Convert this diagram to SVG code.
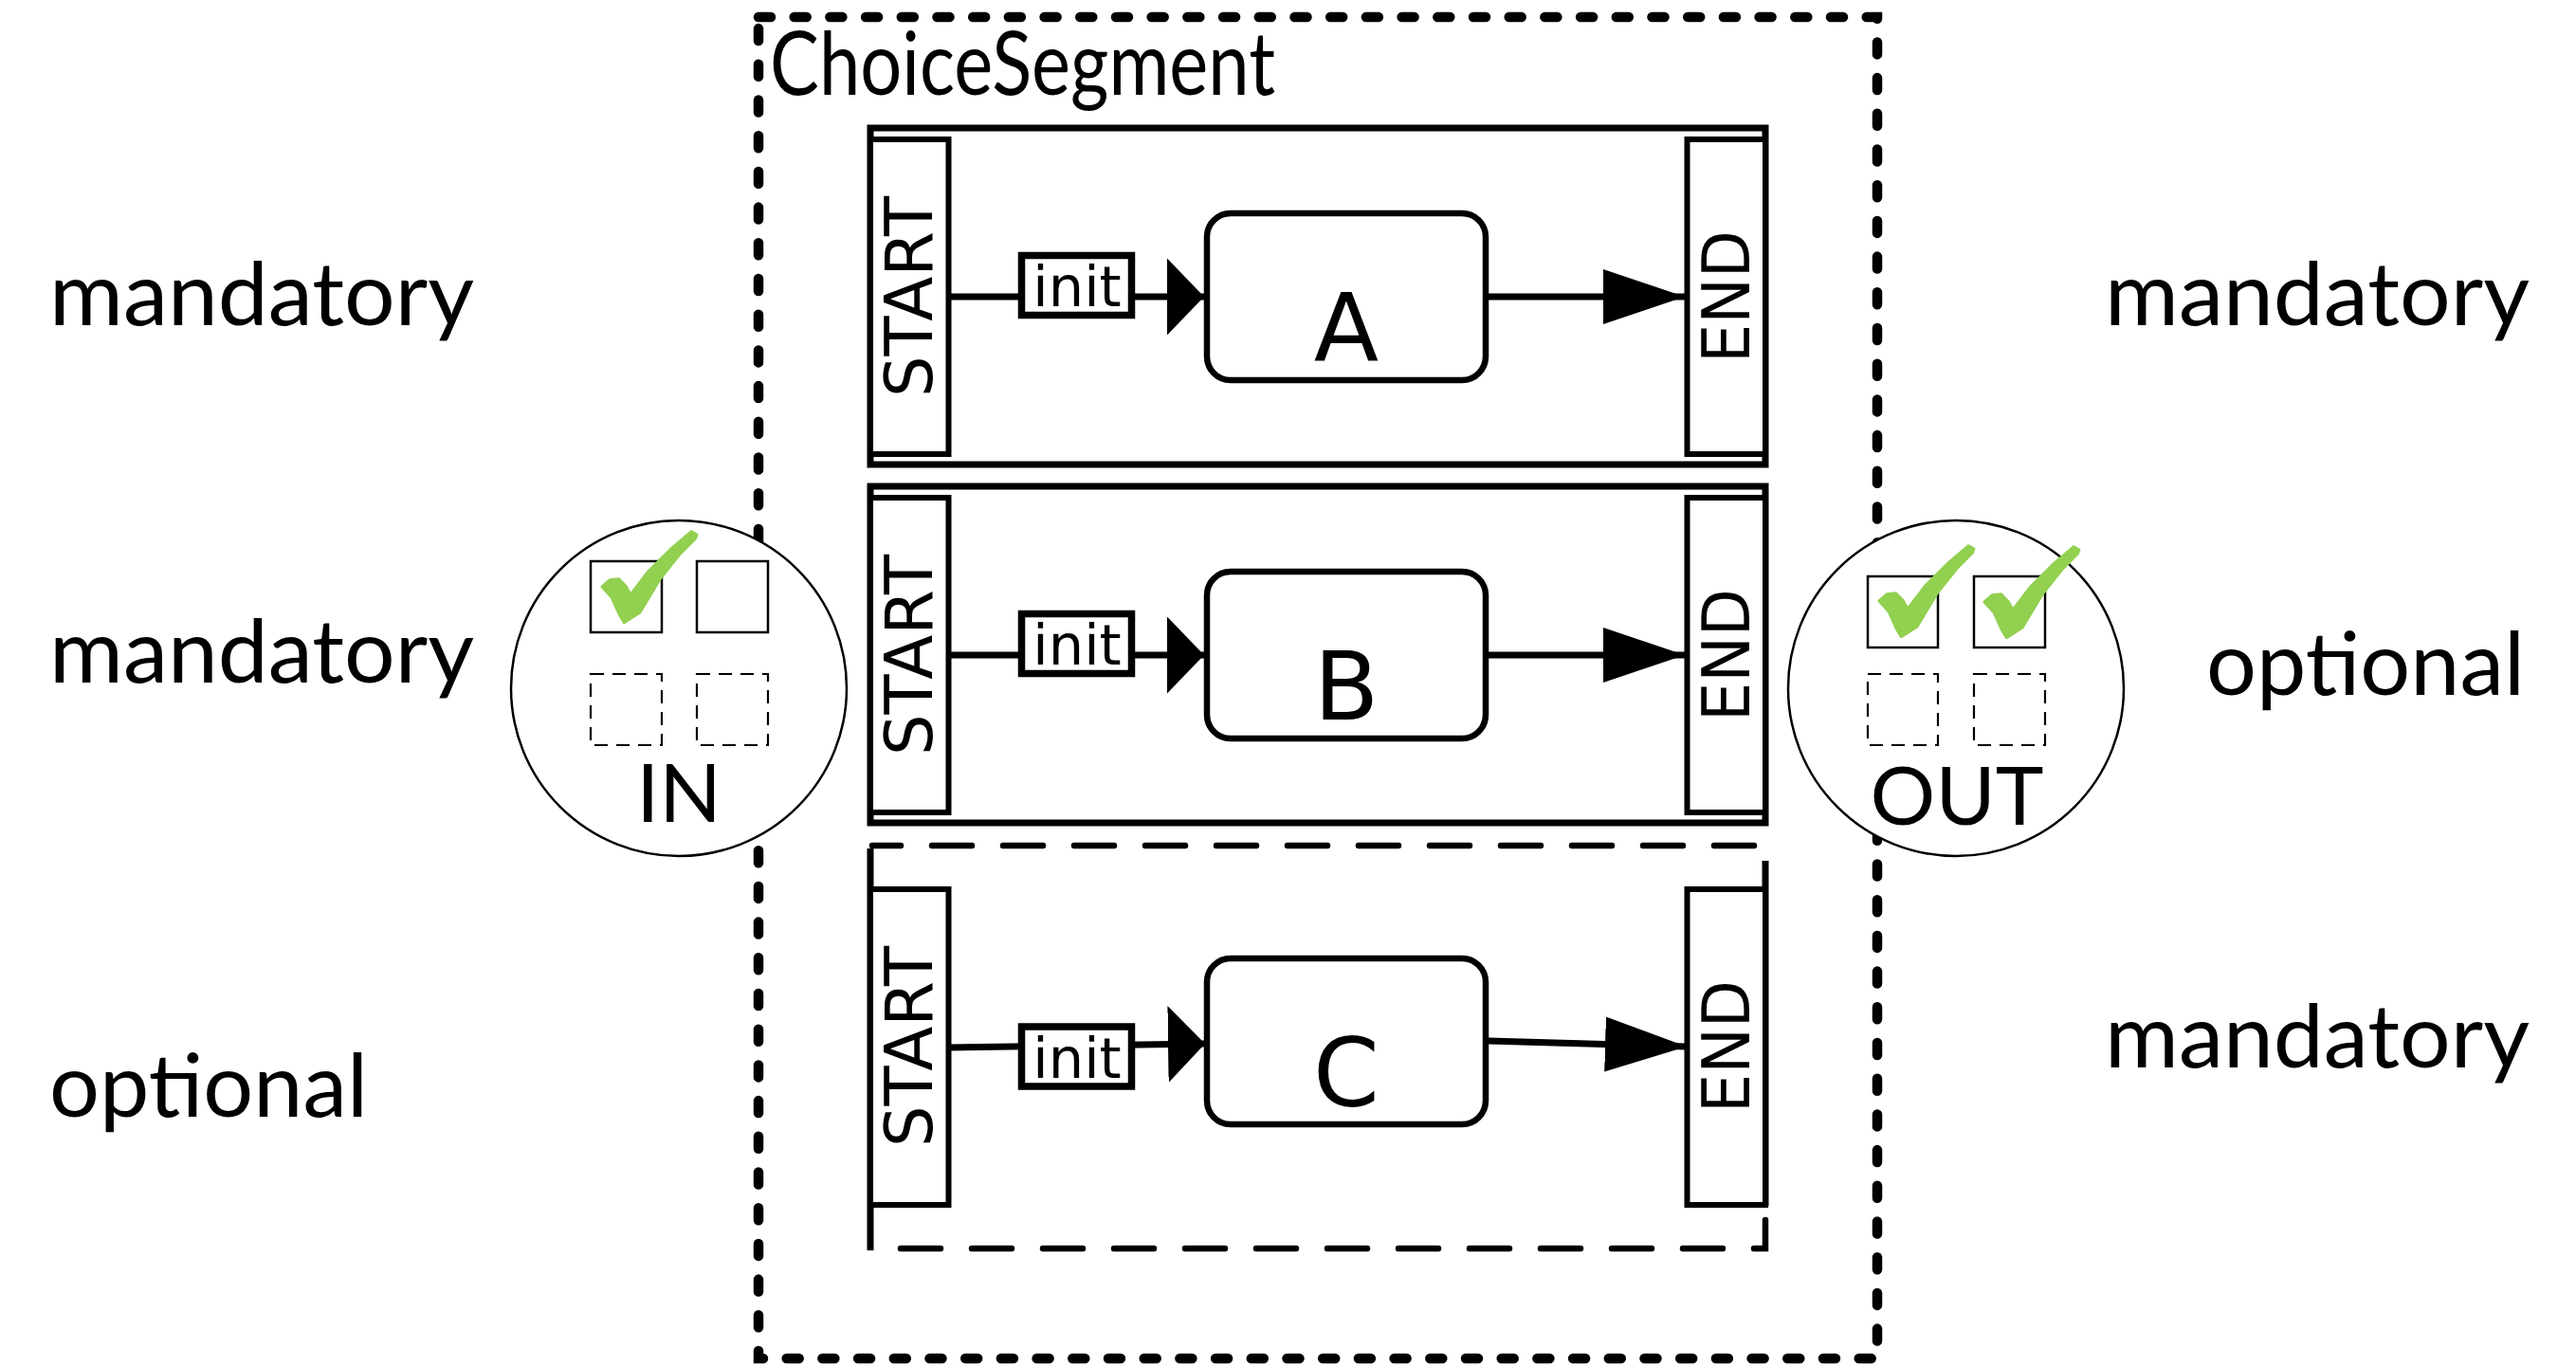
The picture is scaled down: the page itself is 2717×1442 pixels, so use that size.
<svg xmlns="http://www.w3.org/2000/svg" width="2717" height="1442" viewBox="0 0 2717 1442">
<defs>
<style>
.lbl{font-family:Lato,"Liberation Sans",sans-serif;font-size:93px;fill:#000}
.port-t{font-family:Lato,"Liberation Sans",sans-serif;font-size:86px;fill:#000;text-anchor:middle}
.dv{font-family:"DejaVu Sans",sans-serif;fill:#000}
.frame{fill:none;stroke:#000;stroke-width:7}
.term{fill:#fff;stroke:#000;stroke-width:6}
.task{fill:#fff;stroke:#000;stroke-width:6.5}
.edge{fill:none;stroke:#000;stroke-width:7}
.initbox{fill:#fff;stroke:#000;stroke-width:7.5}
.dash{fill:none;stroke:#000;stroke-width:6.5;stroke-linecap:round;stroke-dasharray:42 33}
.outer{fill:none;stroke:#000;stroke-width:10.5;stroke-linecap:round;stroke-dasharray:13 24.7}
.port{fill:#fff;stroke:#000;stroke-width:2.5}
.box{fill:none;stroke:#000;stroke-width:2.5}
.dbox{fill:none;stroke:#000;stroke-width:2.2;stroke-dasharray:14 9}
.check{fill:#92D050;stroke:#92D050;stroke-width:3;stroke-linejoin:round}
</style>
<marker id="ah1" markerUnits="userSpaceOnUse" viewBox="0 0 40 82" markerWidth="40" markerHeight="82" refX="39" refY="40.5" orient="auto"><path d="M0,0 L39,40.5 L0,81 Z" fill="#000"/></marker>
<marker id="ah2" markerUnits="userSpaceOnUse" viewBox="0 0 86 58" markerWidth="86" markerHeight="58" refX="86" refY="29" orient="auto"><path d="M0,0 L86,29 L0,58 Z" fill="#000"/></marker>
<path id="chk" d="M0,0 L8.3,-7.3 L17.7,-8.3 L25,-0.7 L30,8.3 L48.3,-15.7 L71.7,-39 L94.3,-58.3 L100,-55 L98.3,-50.7 L81.7,-34 L61.7,-9 L40,27 L23.3,37.7 L18.3,29.3 L10,11 Z"/>
</defs>
<rect width="2717" height="1442" fill="#fff"/>

<g id="choice-segment">
<rect class="outer" x="800" y="18" width="1180" height="1415"/>
<text class="lbl" x="812" y="100" font-size="73" textLength="533" lengthAdjust="spacingAndGlyphs">ChoiceSegment</text>
</g>

<g id="segment-a">
<rect class="frame" x="918" y="135" width="944" height="355"/>
<g id="a-start"><rect class="term" x="918" y="147" width="82.5" height="332"/><text class="dv" font-size="70" text-anchor="middle" transform="translate(983,313) rotate(-90)" textLength="212" lengthAdjust="spacingAndGlyphs">START</text></g>
<g id="a-task"><rect class="task" x="1273" y="225" width="294" height="176" rx="25"/><text class="dv" font-size="100" text-anchor="middle" x="1420" y="381">A</text></g>
<g id="a-end"><rect class="term" x="1779.5" y="147" width="82.5" height="332"/><text class="dv" font-size="70" text-anchor="middle" transform="translate(1845,313) rotate(-90)" textLength="140" lengthAdjust="spacingAndGlyphs">END</text></g>
</g>

<g id="segment-b">
<rect class="frame" x="918" y="513" width="944" height="355"/>
<g id="b-start"><rect class="term" x="918" y="525" width="82.5" height="332"/><text class="dv" font-size="70" text-anchor="middle" transform="translate(983,691) rotate(-90)" textLength="212" lengthAdjust="spacingAndGlyphs">START</text></g>
<g id="b-task"><rect class="task" x="1273" y="603" width="294" height="176" rx="25"/><text class="dv" font-size="100" text-anchor="middle" x="1420" y="759">B</text></g>
<g id="b-end"><rect class="term" x="1779.5" y="525" width="82.5" height="332"/><text class="dv" font-size="70" text-anchor="middle" transform="translate(1845,691) rotate(-90)" textLength="140" lengthAdjust="spacingAndGlyphs">END</text></g>
</g>

<g id="segment-c">
<path class="dash" d="M920,892 H1862" stroke-dashoffset="12"/>
<path class="dash" d="M917,1317 H1862 V1285" stroke-dashoffset="42"/>
<path class="frame" d="M918,895 V1319 M1862,908 V1272"/>
<g id="c-start"><rect class="term" x="918" y="938" width="82.5" height="333"/><text class="dv" font-size="70" text-anchor="middle" transform="translate(983,1104) rotate(-90)" textLength="212" lengthAdjust="spacingAndGlyphs">START</text></g>
<g id="c-task"><rect class="task" x="1273" y="1011" width="294" height="175" rx="25"/><text class="dv" font-size="100" text-anchor="middle" x="1420" y="1167">C</text></g>
<g id="c-end"><rect class="term" x="1779.5" y="938" width="82.5" height="333"/><text class="dv" font-size="70" text-anchor="middle" transform="translate(1845,1104) rotate(-90)" textLength="140" lengthAdjust="spacingAndGlyphs">END</text></g>
</g>

<g id="connectors">
<path class="edge" d="M1001,313 H1270" marker-end="url(#ah1)"/>
<path class="edge" d="M1570,313 H1777" marker-end="url(#ah2)"/>
<path class="edge" d="M1001,691 H1270" marker-end="url(#ah1)"/>
<path class="edge" d="M1570,691 H1777" marker-end="url(#ah2)"/>
<path class="edge" d="M1001,1105 L1271,1101" marker-end="url(#ah1)"/>
<path class="edge" d="M1570,1098 L1779,1104" marker-end="url(#ah2)"/>
</g>

<g id="edge-labels">
<g id="a-init"><rect class="initbox" x="1077.5" y="269.5" width="116" height="63"/><text class="dv" font-size="59" text-anchor="middle" x="1136" y="323">init</text></g>
<g id="b-init"><rect class="initbox" x="1077.5" y="647.5" width="116" height="63"/><text class="dv" font-size="59" text-anchor="middle" x="1136" y="701">init</text></g>
<g id="c-init"><rect class="initbox" x="1077.5" y="1083" width="116" height="63"/><text class="dv" font-size="59" text-anchor="middle" x="1136" y="1137">init</text></g>
</g>

<g id="labels-left">
<text class="lbl" x="52" y="343" textLength="448" lengthAdjust="spacingAndGlyphs">mandatory</text>
<text class="lbl" x="52" y="720" textLength="448" lengthAdjust="spacingAndGlyphs">mandatory</text>
<text class="lbl" x="52" y="1178" textLength="336" lengthAdjust="spacingAndGlyphs">optional</text>
</g>
<g id="labels-right">
<text class="lbl" x="2668" y="343" text-anchor="end" textLength="448" lengthAdjust="spacingAndGlyphs">mandatory</text>
<text class="lbl" x="2663" y="733" text-anchor="end" textLength="336" lengthAdjust="spacingAndGlyphs">optional</text>
<text class="lbl" x="2668" y="1126" text-anchor="end" textLength="448" lengthAdjust="spacingAndGlyphs">mandatory</text>
</g>

<g id="in-port">
<circle class="port" cx="716" cy="726" r="177"/>
<rect class="box" x="623" y="592" width="75" height="75"/>
<rect class="box" x="735" y="592" width="75" height="75"/>
<rect class="dbox" x="623" y="711" width="75" height="75"/>
<rect class="dbox" x="735" y="711" width="75" height="75"/>
<use href="#chk" class="check" transform="translate(635,619)"/>
<text class="port-t" x="716" y="867">IN</text>
</g>

<g id="out-port">
<circle class="port" cx="2063" cy="726" r="177"/>
<rect class="box" x="1970" y="608" width="74" height="75"/>
<rect class="box" x="2082" y="608" width="75" height="75"/>
<rect class="dbox" x="1970" y="711" width="74" height="75"/>
<rect class="dbox" x="2082" y="711" width="75" height="75"/>
<use href="#chk" class="check" transform="translate(1982,634)"/>
<use href="#chk" class="check" transform="translate(2093,635)"/>
<text class="port-t" x="2064" y="870">OUT</text>
</g>
</svg>
